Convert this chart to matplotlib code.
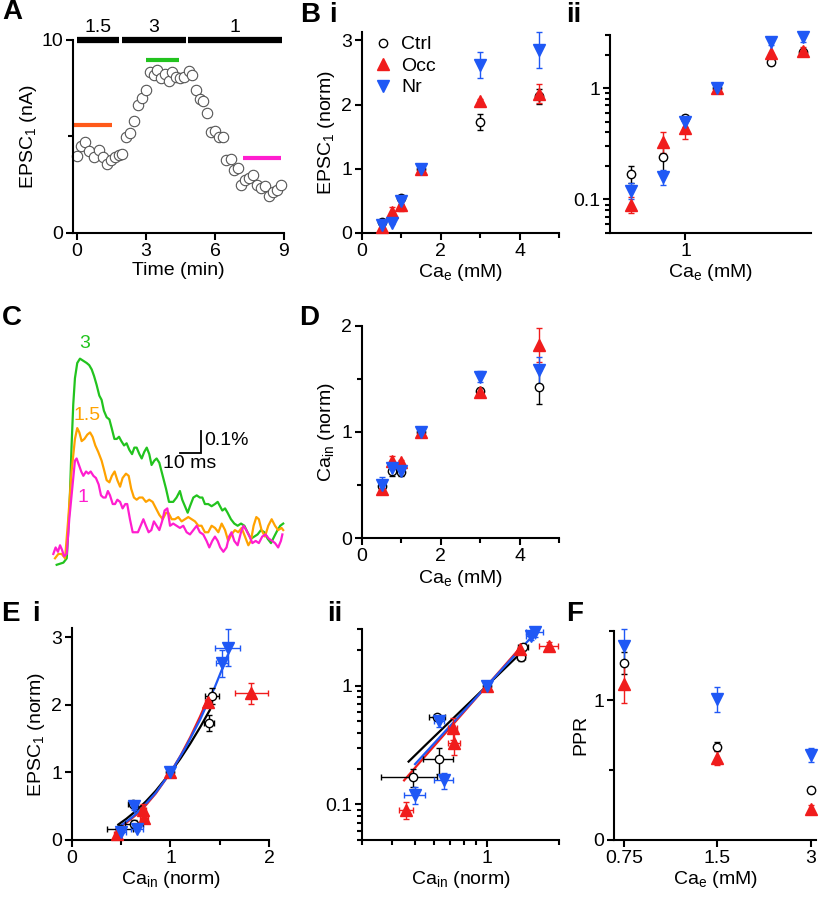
import matplotlib
matplotlib.use("Agg")
import matplotlib.pyplot as plt
from matplotlib.lines import Line2D
from matplotlib.ticker import FixedLocator, NullFormatter, NullLocator

plt.rcParams['font.family'] = ['Liberation Sans', 'DejaVu Sans']
plt.rcParams['mathtext.default'] = 'regular'
plt.rcParams['font.size'] = 14
plt.rcParams['axes.linewidth'] = 1.5

# ---- data -------------------------------------------------------------
# A: EPSC1 time course
time_min = [0.0, 0.17, 0.36, 0.53, 0.73, 0.96, 1.15, 1.3, 1.48, 1.66, 1.82,
            1.98, 2.14, 2.31, 2.48, 2.65, 2.83, 3.0, 3.17, 3.33, 3.49, 3.66,
            3.83, 3.99, 4.13, 4.29, 4.46, 4.65, 4.85, 5.01, 5.17, 5.34, 5.5,
            5.67, 5.84, 6.01, 6.19, 6.34, 6.5, 6.69, 6.82, 6.99, 7.13, 7.31,
            7.48, 7.66, 7.81, 7.99, 8.17, 8.34, 8.51, 8.68, 8.87]
epsc_na = [4.0, 4.5, 4.7, 4.26, 3.95, 4.29, 3.95, 3.55, 3.77, 3.95, 4.03,
           4.07, 4.98, 5.2, 5.81, 6.63, 7.0, 7.39, 8.36, 8.18, 8.43, 8.04,
           8.22, 7.87, 8.36, 8.06, 8.03, 8.06, 8.41, 8.17, 7.39, 6.94, 6.85,
           6.23, 5.22, 5.29, 4.97, 4.98, 3.77, 3.81, 3.25, 3.39, 2.47, 2.77,
           2.84, 2.99, 2.47, 2.34, 2.44, 1.9, 2.15, 2.25, 2.51]
cond_labels = ['1.5', '3', '1']
cond_start = [0.0, 1.94, 4.84]
cond_end = [1.82, 4.72, 8.91]
avg_level = [5.59, 8.96, 3.88]
avg_start = [-0.13, 3.0, 7.23]
avg_end = [1.54, 4.43, 8.86]

# B / D / E / F: Ca_e series
ca_e = [0.5, 0.75, 1.0, 1.5, 3.0, 4.5]
epsc_ctrl = [0.17, 0.24, 0.54, 1.0, 1.73, 2.13]
epsc_ctrl_err = [0.03, 0.06, 0.03, 0.0, 0.12, 0.12]
epsc_occ = [0.09, 0.33, 0.44, 1.0, 2.05, 2.17]
epsc_occ_err = [0.015, 0.07, 0.09, 0.03, 0.03, 0.15]
epsc_nr = [0.12, 0.16, 0.50, 1.0, 2.62, 2.85]
epsc_nr_err = [0.02, 0.025, 0.05, 0.02, 0.2, 0.28]

ca_in_ctrl = [0.49, 0.63, 0.62, 1.0, 1.39, 1.42]
ca_in_occ = [0.46, 0.73, 0.72, 1.0, 1.38, 1.82]
ca_in_nr = [0.50, 0.66, 0.63, 1.0, 1.52, 1.58]
ca_in_ctrl_err_d = [0.05, 0.04, 0.03, 0.0, 0.02, 0.16]
ca_in_occ_err_d = [0.03, 0.04, 0.02, 0.02, 0.02, 0.16]
ca_in_nr_err_d = [0.08, 0.05, 0.02, 0.02, 0.05, 0.13]
ca_in_ctrl_err_e = [0.13, 0.09, 0.05, 0.0, 0.05, 0.07]
ca_in_occ_err_e = [0.03, 0.04, 0.03, 0.0, 0.03, 0.17]
ca_in_nr_err_e = [0.05, 0.06, 0.03, 0.0, 0.06, 0.13]

fit_x_ctrl = [0.47, 0.55, 0.65, 0.75, 0.85, 1.0, 1.1, 1.2, 1.3, 1.40]
fit_y_ctrl = [0.229, 0.312, 0.432, 0.571, 0.728, 1.0, 1.204, 1.427, 1.668, 1.927]
fit_x_occ = [0.45, 0.55, 0.65, 0.75, 0.85, 1.0, 1.1, 1.2, 1.3, 1.38]
fit_y_occ = [0.159, 0.253, 0.371, 0.516, 0.688, 1.0, 1.245, 1.521, 1.829, 2.098]
fit_x_nr = [0.50, 0.60, 0.70, 0.85, 1.0, 1.15, 1.3, 1.45, 1.58]
fit_y_nr = [0.218, 0.325, 0.456, 0.699, 1.0, 1.36, 1.781, 2.265, 2.735]

# F: paired-pulse ratio
ppr_ca_e = [0.75, 1.5, 3.0]
ppr_ctrl = [1.27, 0.67, 0.36]
ppr_ctrl_err = [0.08, 0.03, 0.02]
ppr_occ = [1.12, 0.59, 0.22]
ppr_occ_err = [0.14, 0.05, 0.03]
ppr_nr = [1.39, 1.01, 0.61]
ppr_nr_err = [0.12, 0.09, 0.05]

# C: Ca transients (ms, %)
t_green = [0.8, 4.0, 5.6, 6.3, 7.1, 7.9, 8.7, 9.5, 10.6, 11.9, 13.5, 15.1,
           16.3, 17.5, 18.6, 19.8, 21.1, 22.2, 23.3, 24.6, 25.9, 27.0, 28.3,
           29.4, 30.5, 31.6, 32.9, 34.1, 35.4, 36.7, 37.8, 38.9, 40.2, 41.3,
           42.5, 43.7, 44.9, 46.0, 47.3, 48.4, 49.7, 51.3, 52.9, 54.3, 56.3,
           57.9, 59.5, 60.6, 61.9, 63.2, 64.3, 65.9, 67.5, 69.0, 70.2, 71.4,
           73.0, 74.6, 76.2, 77.5, 78.6, 79.7, 81.0, 82.2, 83.8, 85.4, 87.0,
           88.6, 90.2, 91.7, 93.3, 94.9, 96.5, 98.1, 99.7, 101.3, 102.9,
           104.4, 106.0, 107.3, 108.7]
y_green = [0.01, 0.02, 0.04, 0.16, 0.33, 0.56, 0.75, 0.87, 0.94, 0.96, 0.95,
           0.94, 0.93, 0.91, 0.88, 0.84, 0.79, 0.77, 0.72, 0.69, 0.68, 0.64,
           0.59, 0.59, 0.60, 0.58, 0.56, 0.57, 0.54, 0.52, 0.55, 0.55, 0.52,
           0.50, 0.53, 0.55, 0.52, 0.47, 0.49, 0.50, 0.48, 0.42, 0.36, 0.30,
           0.30, 0.32, 0.35, 0.31, 0.28, 0.25, 0.28, 0.32, 0.33, 0.32, 0.32,
           0.29, 0.29, 0.28, 0.29, 0.30, 0.28, 0.26, 0.27, 0.25, 0.22, 0.20,
           0.19, 0.20, 0.19, 0.16, 0.13, 0.14, 0.15, 0.17, 0.16, 0.13, 0.11,
           0.14, 0.17, 0.19, 0.20]
t_orange = [0.0, 1.6, 3.2, 4.8, 6.3, 7.9, 9.5, 10.6, 11.6, 12.7, 14.0, 15.4,
            16.7, 17.9, 19.2, 20.6, 22.2, 23.3, 24.6, 25.9, 27.1, 28.4, 29.7,
            31.0, 32.2, 33.8, 35.1, 36.3, 37.6, 38.9, 40.2, 41.7, 43.3, 44.9,
            46.5, 48.1, 49.7, 51.3, 52.9, 54.0, 55.6, 57.1, 58.7, 60.3, 61.9,
            63.5, 65.1, 66.7, 68.3, 69.8, 71.4, 73.0, 74.6, 76.2, 77.8, 79.4,
            81.0, 82.5, 84.1, 85.7, 87.3, 88.9, 90.5, 92.1, 93.3, 94.6, 95.9,
            97.1, 98.4, 100.0, 101.6, 103.2, 104.8, 106.3, 107.9, 108.7]
y_orange = [0.04, 0.06, 0.06, 0.04, 0.22, 0.44, 0.59, 0.64, 0.62, 0.58, 0.59,
            0.61, 0.62, 0.60, 0.56, 0.53, 0.49, 0.45, 0.40, 0.39, 0.42, 0.44,
            0.40, 0.37, 0.41, 0.43, 0.42, 0.36, 0.32, 0.31, 0.32, 0.32, 0.30,
            0.31, 0.30, 0.27, 0.24, 0.22, 0.25, 0.25, 0.22, 0.22, 0.23, 0.21,
            0.22, 0.23, 0.22, 0.21, 0.19, 0.19, 0.16, 0.16, 0.19, 0.18, 0.16,
            0.20, 0.17, 0.12, 0.15, 0.17, 0.16, 0.18, 0.14, 0.10, 0.12, 0.19,
            0.23, 0.22, 0.17, 0.14, 0.19, 0.22, 0.19, 0.17, 0.18, 0.17]
t_magenta = [-0.8, 0.3, 1.4, 2.4, 3.3, 4.3, 5.6, 6.8, 8.4, 9.5, 10.3, 11.4,
             12.5, 13.5, 14.8, 15.9, 17.0, 18.3, 19.5, 20.8, 21.9, 23.0, 24.1,
             25.2, 26.2, 27.5, 28.6, 29.7, 31.0, 32.2, 33.5, 34.4, 35.7, 37.0,
             38.3, 39.5, 40.8, 42.1, 43.3, 44.6, 45.9, 47.1, 48.4, 49.7, 51.0,
             52.2, 53.5, 54.8, 56.3, 57.9, 59.5, 61.1, 62.7, 64.3, 65.9, 67.5,
             69.0, 70.6, 72.2, 73.5, 74.9, 76.2, 77.5, 78.7, 80.2, 81.7, 82.9,
             84.1, 85.4, 87.0, 88.6, 89.8, 91.1, 92.7, 94.0, 95.6, 97.1, 98.7,
             100.3, 101.9, 103.5, 104.8, 106.3, 107.6, 108.3]
y_magenta = [0.06, 0.09, 0.07, 0.10, 0.08, 0.05, 0.06, 0.22, 0.38, 0.49, 0.50,
             0.47, 0.44, 0.42, 0.44, 0.43, 0.44, 0.42, 0.41, 0.38, 0.33, 0.32,
             0.32, 0.35, 0.33, 0.29, 0.29, 0.31, 0.30, 0.27, 0.29, 0.29, 0.22,
             0.16, 0.16, 0.16, 0.19, 0.22, 0.19, 0.16, 0.17, 0.21, 0.19, 0.17,
             0.21, 0.26, 0.27, 0.19, 0.20, 0.19, 0.18, 0.19, 0.16, 0.15, 0.17,
             0.19, 0.16, 0.15, 0.12, 0.09, 0.12, 0.14, 0.12, 0.09, 0.07, 0.09,
             0.14, 0.16, 0.12, 0.10, 0.16, 0.19, 0.17, 0.14, 0.11, 0.12, 0.11,
             0.14, 0.15, 0.13, 0.12, 0.11, 0.09, 0.12, 0.15]
trace_labels = ['3', '1.5', '1']

# ---- styling ----------------------------------------------------------
W, H = 820, 899
RED = '#f01c1c'
BLUE = '#1f58f5'
GREEN = '#22c31e'
ORANGE = '#ffa200'
ORANGE_A = '#ff5a1a'
MAGENTA = '#ff1ecf'

STY = {
    'ctrl': dict(fmt='o', color='black', mfc='white', ms=6),
    'occ': dict(fmt='^', color=RED, mfc=RED, ms=9),
    'nr': dict(fmt='v', color=BLUE, mfc=BLUE, ms=9),
}


def px_axes(fig, left, right, top, bottom):
    return fig.add_axes([left / W, 1 - bottom / H,
                         (right - left) / W, (bottom - top) / H])


def style(ax):
    ax.spines['top'].set_visible(False)
    ax.spines['right'].set_visible(False)
    ax.tick_params(which='major', length=5, width=1.5, labelsize=14, pad=2)
    ax.tick_params(which='minor', length=3.5, width=1.5)


def pts(ax, x, y, kind, yerr=None, xerr=None):
    s = STY[kind]
    ax.errorbar(x, y, yerr=yerr, xerr=xerr, fmt=s['fmt'], color=s['color'],
                mfc=s['mfc'], mec=s['color'], ms=s['ms'], mew=1,
                elinewidth=1, capsize=2.5, capthick=1, clip_on=False,
                zorder=3)


def log_y(ax):
    ax.set_yscale('log')
    ax.set_ylim(0.05, 3)
    ax.yaxis.set_major_locator(FixedLocator([0.1, 1]))
    ax.yaxis.set_minor_locator(FixedLocator(
        [0.05, 0.06, 0.07, 0.08, 0.09, 0.2, 0.3, 0.4, 0.5, 0.6, 0.7, 0.8,
         0.9, 2, 3]))
    ax.yaxis.set_minor_formatter(NullFormatter())
    ax.set_yticklabels(['0.1', '1'])


fig = plt.figure(figsize=(W / 100, H / 100), dpi=100)


def letter(x, y, s):
    fig.text(x / W, 1 - y / H, s, fontsize=20, fontweight='bold',
             ha='center', va='center')


# ---- A ----------------------------------------------------------------
ax = px_axes(fig, 73, 284, 40, 233)
style(ax)
ax.plot(time_min, epsc_na, 'o', ms=7.5, mfc='white', mec='#555555', mew=0.8,
        clip_on=False)
for lab, x0, x1 in zip(cond_labels, cond_start, cond_end):
    ax.plot([x0, x1], [10, 10], color='black', lw=4.5, solid_capstyle='butt',
            clip_on=False)
    ax.text((x0 + x1) / 2, 10.2, lab, ha='center', va='bottom', fontsize=14)
for c, lv, x0, x1 in zip([ORANGE_A, GREEN, MAGENTA],
                         avg_level, avg_start, avg_end):
    ax.plot([x0, x1], [lv, lv], color=c, lw=3, solid_capstyle='butt',
            clip_on=False)
ax.set_xlim(-0.17, 9)
ax.set_ylim(0, 10)
ax.set_xticks([0, 3, 6, 9])
ax.set_yticks([0, 10])
ax.yaxis.set_minor_locator(FixedLocator([5]))
ax.set_xlabel('Time (min)', labelpad=2)
ax.set_ylabel('EPSC$_1$ (nA)', labelpad=2)
letter(12, 12, 'A')

# ---- B i --------------------------------------------------------------
ax = px_axes(fig, 362, 559, 32, 233)
style(ax)
pts(ax, ca_e, epsc_ctrl, 'ctrl', yerr=epsc_ctrl_err)
pts(ax, ca_e, epsc_occ, 'occ', yerr=epsc_occ_err)
pts(ax, ca_e, epsc_nr, 'nr', yerr=epsc_nr_err)
ax.set_xlim(0, 5)
ax.set_ylim(0, 3.13)
ax.set_xticks([0, 2, 4])
ax.xaxis.set_minor_locator(FixedLocator([1, 3, 5]))
ax.set_yticks([0, 1, 2, 3])
ax.set_xlabel('Ca$_e$ (mM)', labelpad=2)
ax.set_ylabel('EPSC$_1$ (norm)', labelpad=3)
handles = [Line2D([], [], ls='none', marker='o', mfc='white', mec='black',
                  ms=6),
           Line2D([], [], ls='none', marker='^', color=RED, ms=9),
           Line2D([], [], ls='none', marker='v', color=BLUE, ms=9)]
ax.legend(handles, ['Ctrl', 'Occ', 'Nr'], loc='upper left',
          bbox_to_anchor=(0.03, 1.02), frameon=False, handlelength=0.8,
          handletextpad=0.5, labelspacing=0.2, borderaxespad=0, fontsize=14)
letter(310, 15, 'B')
letter(333, 15, 'i')

# ---- B ii -------------------------------------------------------------
ax = px_axes(fig, 610, 811, 35, 233)
style(ax)
pts(ax, ca_e, epsc_ctrl, 'ctrl', yerr=epsc_ctrl_err)
pts(ax, ca_e, epsc_occ, 'occ', yerr=epsc_occ_err)
pts(ax, ca_e, epsc_nr, 'nr', yerr=epsc_nr_err)
ax.set_xscale('log')
ax.set_xlim(0.38, 5)
ax.xaxis.set_major_locator(FixedLocator([1]))
ax.xaxis.set_minor_locator(NullLocator())
ax.set_xticklabels(['1'])
log_y(ax)
ax.set_xlabel('Ca$_e$ (mM)', labelpad=2)
letter(574, 15, 'ii')

# ---- C ----------------------------------------------------------------
ax = px_axes(fig, 50, 300, 340, 575)
ax.axis('off')
for t, y, c in zip([t_green, t_orange, t_magenta],
                   [y_green, y_orange, y_magenta], [GREEN, ORANGE, MAGENTA]):
    ax.plot(t, y, color=c, lw=1.6)
ax.set_xlim(-2.38, 116.7)
ax.set_ylim(-0.037, 1.046)
ax.text(13.9, 0.99, trace_labels[0], color=GREEN, ha='center', va='bottom',
        fontsize=14)
ax.text(15.5, 0.66, trace_labels[1], color=ORANGE, ha='center', va='bottom',
        fontsize=14)
ax.text(13.2, 0.32, trace_labels[2], color=MAGENTA, ha='center',
        va='center', fontsize=14)
ax.plot([59.5, 69.5, 69.5], [0.527, 0.527, 0.627], color='black', lw=1.3,
        solid_joinstyle='miter')
ax.text(71.0, 0.585, '0.1%', ha='left', va='center', fontsize=14)
ax.text(64.0, 0.515, '10 ms', ha='center', va='top', fontsize=14)
letter(12, 318, 'C')

# ---- D ----------------------------------------------------------------
ax = px_axes(fig, 362, 559, 325.7, 538.3)
style(ax)
pts(ax, ca_e, ca_in_ctrl, 'ctrl', yerr=ca_in_ctrl_err_d)
pts(ax, ca_e, ca_in_occ, 'occ', yerr=ca_in_occ_err_d)
pts(ax, ca_e, ca_in_nr, 'nr', yerr=ca_in_nr_err_d)
ax.set_xlim(0, 5)
ax.set_ylim(0, 2)
ax.set_xticks([0, 2, 4])
ax.xaxis.set_minor_locator(FixedLocator([1, 3, 5]))
ax.set_yticks([0, 1, 2])
ax.yaxis.set_minor_locator(FixedLocator([0.5, 1.5]))
ax.set_xlabel('Ca$_e$ (mM)', labelpad=2)
ax.set_ylabel('Ca$_{in}$ (norm)', labelpad=3)
letter(309, 318, 'D')

# ---- E i / E ii -------------------------------------------------------
for panel in ('i', 'ii'):
    if panel == 'i':
        ax = px_axes(fig, 72, 269, 628, 840)
    else:
        ax = px_axes(fig, 362, 559, 629, 840)
    style(ax)
    ax.plot(fit_x_ctrl, fit_y_ctrl, color='black', lw=1.6, zorder=2)
    ax.plot(fit_x_occ, fit_y_occ, color=RED, lw=1.6, zorder=2)
    ax.plot(fit_x_nr, fit_y_nr, color=BLUE, lw=1.6, zorder=2)
    pts(ax, ca_in_ctrl, epsc_ctrl, 'ctrl', yerr=epsc_ctrl_err,
        xerr=ca_in_ctrl_err_e)
    pts(ax, ca_in_occ, epsc_occ, 'occ', yerr=epsc_occ_err,
        xerr=ca_in_occ_err_e)
    pts(ax, ca_in_nr, epsc_nr, 'nr', yerr=epsc_nr_err, xerr=ca_in_nr_err_e)
    ax.set_xlabel('Ca$_{in}$ (norm)', labelpad=2)
    if panel == 'i':
        ax.set_xlim(0, 2)
        ax.set_ylim(0, 3.14)
        ax.set_xticks([0, 1, 2])
        ax.xaxis.set_minor_locator(FixedLocator([0.5, 1.5]))
        ax.set_yticks([0, 1, 2, 3])
        ax.set_ylabel('EPSC$_1$ (norm)', labelpad=3)
    else:
        ax.set_xscale('log')
        ax.set_xlim(0.3, 2)
        ax.xaxis.set_major_locator(FixedLocator([1]))
        ax.xaxis.set_minor_locator(FixedLocator(
            [0.3, 0.4, 0.5, 0.6, 0.7, 0.8, 0.9, 2]))
        ax.xaxis.set_minor_formatter(NullFormatter())
        ax.set_xticklabels(['1'])
        log_y(ax)
letter(10, 614, 'E')
letter(36, 614, 'i')
letter(335, 614, 'ii')

# ---- F ----------------------------------------------------------------
ax = px_axes(fig, 614, 816, 630.7, 840)
style(ax)
pts(ax, ppr_ca_e, ppr_ctrl, 'ctrl', yerr=ppr_ctrl_err)
pts(ax, ppr_ca_e, ppr_occ, 'occ', yerr=ppr_occ_err)
pts(ax, ppr_ca_e, ppr_nr, 'nr', yerr=ppr_nr_err)
ax.set_xscale('log')
ax.set_xlim(0.696, 3.12)
ax.xaxis.set_major_locator(FixedLocator(ppr_ca_e))
ax.xaxis.set_minor_locator(NullLocator())
ax.set_xticklabels(['0.75', '1.5', '3'])
ax.set_ylim(0, 1.5)
ax.set_yticks([0, 1])
ax.yaxis.set_minor_locator(FixedLocator([0.5, 1.5]))
ax.set_xlabel('Ca$_e$ (mM)', labelpad=2)
ax.set_ylabel('PPR', labelpad=3)
letter(575, 614, 'F')

fig.savefig('out.png', dpi=100)
